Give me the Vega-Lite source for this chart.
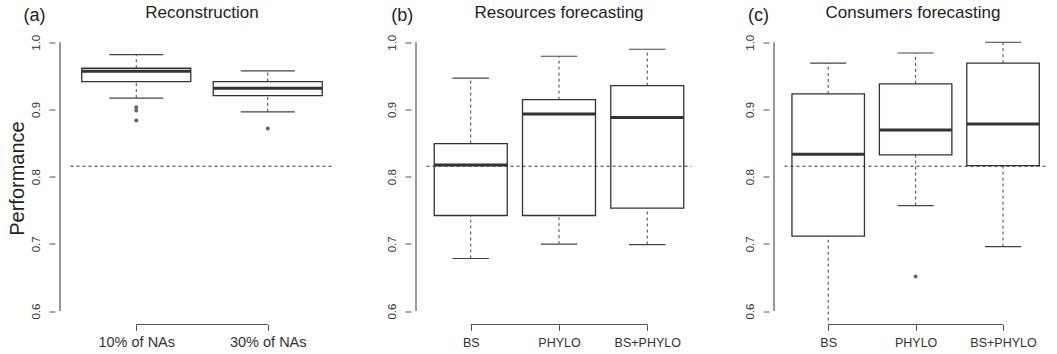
{
  "$schema": "https://vega.github.io/schema/vega-lite/v6.json",
  "autosize": {"type": "pad"},
  "padding": {"left": 7, "top": 3.5, "right": 0, "bottom": 0},
  "spacing": 62,
  "bounds": "flush",
  "config": {
    "view": {"stroke": null},
    "font": "Liberation Sans",
    "axis": {"grid": false, "domain": false, "tickColor": "#555", "tickWidth": 1, "labelColor": "#333", "labelFont": "Liberation Sans", "labelFlush": false, "labelOverlap": false},
    "title": {"fontSize": 17, "fontWeight": "normal", "color": "#222", "anchor": "middle", "frame": "group", "baseline": "alphabetic", "offset": -15, "font": "Liberation Sans"}
  },
  "datasets": {
    "boxA": [
      {"grp": 1, "lower": 0.917, "q1": 0.9414, "median": 0.9569, "q3": 0.9613, "upper": 0.9816},
      {"grp": 2, "lower": 0.8964, "q1": 0.9206, "median": 0.9316, "q3": 0.9414, "upper": 0.9573}
    ],
    "outA": [
      {"grp": 1, "value": 0.9033},
      {"grp": 1, "value": 0.8983},
      {"grp": 1, "value": 0.8834},
      {"grp": 2, "value": 0.8715}
    ],
    "boxB": [
      {"grp": 1, "lower": 0.6782, "q1": 0.7422, "median": 0.8175, "q3": 0.8492, "upper": 0.9465},
      {"grp": 2, "lower": 0.6996, "q1": 0.7422, "median": 0.8934, "q3": 0.9146, "upper": 0.9792},
      {"grp": 3, "lower": 0.699, "q1": 0.7532, "median": 0.8879, "q3": 0.9355, "upper": 0.9896}
    ],
    "boxC": [
      {"grp": 1, "lower": 0.55, "q1": 0.7115, "median": 0.8335, "q3": 0.9231, "upper": 0.9688},
      {"grp": 2, "lower": 0.757, "q1": 0.8324, "median": 0.8696, "q3": 0.938, "upper": 0.984},
      {"grp": 3, "lower": 0.696, "q1": 0.8165, "median": 0.8785, "q3": 0.9688, "upper": 1.0}
    ],
    "outC": [
      {"grp": 2, "value": 0.6514}
    ],
    "one": [{}]
  },
  "hconcat": [
    {
      "width": 294,
      "height": 293,
      "title": {"text": "Reconstruction"},
      "layer": [
        {"data": {"name": "boxA"}, "mark": {"type": "rule", "strokeDash": [3, 3], "color": "#444", "strokeWidth": 1, "clip": true},
         "encoding": {
           "x": {"field": "grp", "type": "quantitative", "scale": {"domain": [0.42, 2.58], "nice": false, "zero": false},
                 "axis": {"values": [1, 2], "labelExpr": "datum.value == 1 ? '10% of NAs' : '30% of NAs'", "labelFontSize": 14.5, "labelBaseline": "alphabetic", "labelPadding": 15.5, "tickSize": 6, "title": null, "labelAngle": 0}},
           "y": {"field": "q3", "type": "quantitative", "scale": {"domain": [0.58, 1.016], "nice": false, "zero": false},
                 "axis": {"values": [0.6, 0.65, 0.7, 0.75, 0.8, 0.85, 0.9, 0.95, 1.0], "labelExpr": "(round(datum.value*100) % 10 == 0) ? format(datum.value, '.1f') : ''", "labelAngle": 270, "labelAlign": "center", "labelBaseline": "alphabetic", "labelPadding": 10, "tickSize": 6, "labelFontSize": 11.5,
                          "title": "Performance", "titleFontSize": 20, "titleFontWeight": "normal", "titleColor": "#222", "titleAngle": 270, "titleBaseline": "alphabetic", "titleAlign": "center", "titleX": -32, "titleY": 146.5}},
           "y2": {"field": "upper"}
         }},
        {"data": {"name": "boxA"}, "mark": {"type": "rule", "strokeDash": [3, 3], "color": "#444", "strokeWidth": 1, "clip": true},
         "encoding": {"x": {"field": "grp", "type": "quantitative"}, "y": {"field": "lower", "type": "quantitative"}, "y2": {"field": "q1"}}},
        {"data": {"name": "boxA"}, "mark": {"type": "tick", "orient": "horizontal", "size": 54, "thickness": 1.2, "color": "#444", "opacity": 1, "clip": true},
         "encoding": {"x": {"field": "grp", "type": "quantitative"}, "y": {"field": "upper", "type": "quantitative"}}},
        {"data": {"name": "boxA"}, "mark": {"type": "tick", "orient": "horizontal", "size": 54, "thickness": 1.2, "color": "#444", "opacity": 1, "clip": true},
         "encoding": {"x": {"field": "grp", "type": "quantitative"}, "y": {"field": "lower", "type": "quantitative"}}},
        {"data": {"name": "boxA"}, "mark": {"type": "bar", "size": 109, "fill": "white", "stroke": "#333", "strokeWidth": 1.3},
         "encoding": {"x": {"field": "grp", "type": "quantitative"}, "y": {"field": "q1", "type": "quantitative"}, "y2": {"field": "q3"}}},
        {"data": {"name": "boxA"}, "mark": {"type": "tick", "orient": "horizontal", "size": 109, "thickness": 3, "color": "#333", "opacity": 1},
         "encoding": {"x": {"field": "grp", "type": "quantitative"}, "y": {"field": "median", "type": "quantitative"}}},
        {"data": {"name": "outA"}, "mark": {"type": "point", "filled": true, "size": 16, "color": "#666", "opacity": 1},
         "encoding": {"x": {"field": "grp", "type": "quantitative"}, "y": {"field": "value", "type": "quantitative"}}},
        {"data": {"name": "one"}, "mark": {"type": "rule", "strokeDash": [3, 3], "color": "#333", "strokeWidth": 1},
         "encoding": {"x": {"datum": 0.5, "type": "quantitative"}, "x2": {"datum": 2.5}, "y": {"datum": 0.8155, "type": "quantitative"}}},
        {"data": {"name": "one"}, "mark": {"type": "rule", "color": "#555", "strokeWidth": 1.2},
         "encoding": {"x": {"datum": 1, "type": "quantitative"}, "x2": {"datum": 2}, "y": {"datum": 0.58, "type": "quantitative"}}},
        {"data": {"name": "one"}, "mark": {"type": "rule", "color": "#555", "strokeWidth": 1.2},
         "encoding": {"x": {"datum": 0.42, "type": "quantitative"}, "y": {"datum": 0.6, "type": "quantitative"}, "y2": {"datum": 1.0}}},
        {"data": {"name": "one"}, "mark": {"type": "text", "text": "(a)", "fontSize": 18, "align": "center", "baseline": "alphabetic", "color": "#222"},
         "encoding": {"x": {"datum": 0.2253, "type": "quantitative"}, "y": {"datum": 1.0317, "type": "quantitative"}}}
      ]
    },
    {
      "width": 296,
      "height": 293,
      "title": {"text": "Resources forecasting"},
      "layer": [
        {"data": {"name": "boxB"}, "mark": {"type": "rule", "strokeDash": [3, 3], "color": "#444", "strokeWidth": 1, "clip": true},
         "encoding": {
           "x": {"field": "grp", "type": "quantitative", "scale": {"domain": [0.38, 3.62], "nice": false, "zero": false},
                 "axis": {"values": [1, 2, 3], "labelExpr": "datum.value == 1 ? 'BS' : datum.value == 2 ? 'PHYLO' : 'BS+PHYLO'", "labelFontSize": 12.5, "labelBaseline": "alphabetic", "labelPadding": 15.5, "tickSize": 6, "title": null, "labelAngle": 0}},
           "y": {"field": "q3", "type": "quantitative", "scale": {"domain": [0.58, 1.016], "nice": false, "zero": false},
                 "axis": {"values": [0.6, 0.65, 0.7, 0.75, 0.8, 0.85, 0.9, 0.95, 1.0], "labelExpr": "(round(datum.value*100) % 10 == 0) ? format(datum.value, '.1f') : ''", "labelAngle": 270, "labelAlign": "center", "labelBaseline": "alphabetic", "labelPadding": 10, "tickSize": 6, "labelFontSize": 11.5, "title": null}},
           "y2": {"field": "upper"}
         }},
        {"data": {"name": "boxB"}, "mark": {"type": "rule", "strokeDash": [3, 3], "color": "#444", "strokeWidth": 1, "clip": true},
         "encoding": {"x": {"field": "grp", "type": "quantitative"}, "y": {"field": "lower", "type": "quantitative"}, "y2": {"field": "q1"}}},
        {"data": {"name": "boxB"}, "mark": {"type": "tick", "orient": "horizontal", "size": 36.5, "thickness": 1.2, "color": "#444", "opacity": 1, "clip": true},
         "encoding": {"x": {"field": "grp", "type": "quantitative"}, "y": {"field": "upper", "type": "quantitative"}}},
        {"data": {"name": "boxB"}, "mark": {"type": "tick", "orient": "horizontal", "size": 36.5, "thickness": 1.2, "color": "#444", "opacity": 1, "clip": true},
         "encoding": {"x": {"field": "grp", "type": "quantitative"}, "y": {"field": "lower", "type": "quantitative"}}},
        {"data": {"name": "boxB"}, "mark": {"type": "bar", "size": 73, "fill": "white", "stroke": "#333", "strokeWidth": 1.3},
         "encoding": {"x": {"field": "grp", "type": "quantitative"}, "y": {"field": "q1", "type": "quantitative"}, "y2": {"field": "q3"}}},
        {"data": {"name": "boxB"}, "mark": {"type": "tick", "orient": "horizontal", "size": 73, "thickness": 3, "color": "#333", "opacity": 1},
         "encoding": {"x": {"field": "grp", "type": "quantitative"}, "y": {"field": "median", "type": "quantitative"}}},
        {"data": {"name": "one"}, "mark": {"type": "rule", "strokeDash": [3, 3], "color": "#333", "strokeWidth": 1},
         "encoding": {"x": {"datum": 0.5, "type": "quantitative"}, "x2": {"datum": 3.5}, "y": {"datum": 0.8155, "type": "quantitative"}}},
        {"data": {"name": "one"}, "mark": {"type": "rule", "color": "#555", "strokeWidth": 1.2},
         "encoding": {"x": {"datum": 1, "type": "quantitative"}, "x2": {"datum": 3}, "y": {"datum": 0.58, "type": "quantitative"}}},
        {"data": {"name": "one"}, "mark": {"type": "rule", "color": "#555", "strokeWidth": 1.2},
         "encoding": {"x": {"datum": 0.38, "type": "quantitative"}, "y": {"datum": 0.6, "type": "quantitative"}, "y2": {"datum": 1.0}}},
        {"data": {"name": "one"}, "mark": {"type": "text", "text": "(b)", "fontSize": 18, "align": "center", "baseline": "alphabetic", "color": "#222"},
         "encoding": {"x": {"datum": 0.224, "type": "quantitative"}, "y": {"datum": 1.031, "type": "quantitative"}}}
      ]
    },
    {
      "width": 288,
      "height": 293,
      "title": {"text": "Consumers forecasting"},
      "layer": [
        {"data": {"name": "boxC"}, "mark": {"type": "rule", "strokeDash": [3, 3], "color": "#444", "strokeWidth": 1, "clip": true},
         "encoding": {
           "x": {"field": "grp", "type": "quantitative", "scale": {"domain": [0.38, 3.56], "nice": false, "zero": false},
                 "axis": {"values": [1, 2, 3], "labelExpr": "datum.value == 1 ? 'BS' : datum.value == 2 ? 'PHYLO' : 'BS+PHYLO'", "labelFontSize": 12.5, "labelBaseline": "alphabetic", "labelPadding": 15.5, "tickSize": 6, "title": null, "labelAngle": 0}},
           "y": {"field": "q3", "type": "quantitative", "scale": {"domain": [0.58, 1.016], "nice": false, "zero": false},
                 "axis": {"values": [0.6, 0.65, 0.7, 0.75, 0.8, 0.85, 0.9, 0.95, 1.0], "labelExpr": "(round(datum.value*100) % 10 == 0) ? format(datum.value, '.1f') : ''", "labelAngle": 270, "labelAlign": "center", "labelBaseline": "alphabetic", "labelPadding": 10, "tickSize": 6, "labelFontSize": 11.5, "title": null}},
           "y2": {"field": "upper"}
         }},
        {"data": {"name": "boxC"}, "mark": {"type": "rule", "strokeDash": [3, 3], "color": "#444", "strokeWidth": 1, "clip": true},
         "encoding": {"x": {"field": "grp", "type": "quantitative"}, "y": {"field": "lower", "type": "quantitative"}, "y2": {"field": "q1"}}},
        {"data": {"name": "boxC"}, "mark": {"type": "tick", "orient": "horizontal", "size": 36, "thickness": 1.2, "color": "#444", "opacity": 1, "clip": true},
         "encoding": {"x": {"field": "grp", "type": "quantitative"}, "y": {"field": "upper", "type": "quantitative"}}},
        {"data": {"name": "boxC"}, "mark": {"type": "tick", "orient": "horizontal", "size": 36, "thickness": 1.2, "color": "#444", "opacity": 1, "clip": true},
         "encoding": {"x": {"field": "grp", "type": "quantitative"}, "y": {"field": "lower", "type": "quantitative"}}},
        {"data": {"name": "boxC"}, "mark": {"type": "bar", "size": 72.5, "fill": "white", "stroke": "#333", "strokeWidth": 1.3},
         "encoding": {"x": {"field": "grp", "type": "quantitative"}, "y": {"field": "q1", "type": "quantitative"}, "y2": {"field": "q3"}}},
        {"data": {"name": "boxC"}, "mark": {"type": "tick", "orient": "horizontal", "size": 72.5, "thickness": 3, "color": "#333", "opacity": 1},
         "encoding": {"x": {"field": "grp", "type": "quantitative"}, "y": {"field": "median", "type": "quantitative"}}},
        {"data": {"name": "outC"}, "mark": {"type": "point", "filled": true, "size": 16, "color": "#666", "opacity": 1},
         "encoding": {"x": {"field": "grp", "type": "quantitative"}, "y": {"field": "value", "type": "quantitative"}}},
        {"data": {"name": "one"}, "mark": {"type": "rule", "strokeDash": [3, 3], "color": "#333", "strokeWidth": 1},
         "encoding": {"x": {"datum": 0.5, "type": "quantitative"}, "x2": {"datum": 3.5}, "y": {"datum": 0.8155, "type": "quantitative"}}},
        {"data": {"name": "one"}, "mark": {"type": "rule", "color": "#555", "strokeWidth": 1.2},
         "encoding": {"x": {"datum": 1, "type": "quantitative"}, "x2": {"datum": 3}, "y": {"datum": 0.58, "type": "quantitative"}}},
        {"data": {"name": "one"}, "mark": {"type": "rule", "color": "#555", "strokeWidth": 1.2},
         "encoding": {"x": {"datum": 0.38, "type": "quantitative"}, "y": {"datum": 0.6, "type": "quantitative"}, "y2": {"datum": 1.0}}},
        {"data": {"name": "one"}, "mark": {"type": "text", "text": "(c)", "fontSize": 18, "align": "center", "baseline": "alphabetic", "color": "#222"},
         "encoding": {"x": {"datum": 0.203, "type": "quantitative"}, "y": {"datum": 1.031, "type": "quantitative"}}}
      ]
    }
  ]
}
